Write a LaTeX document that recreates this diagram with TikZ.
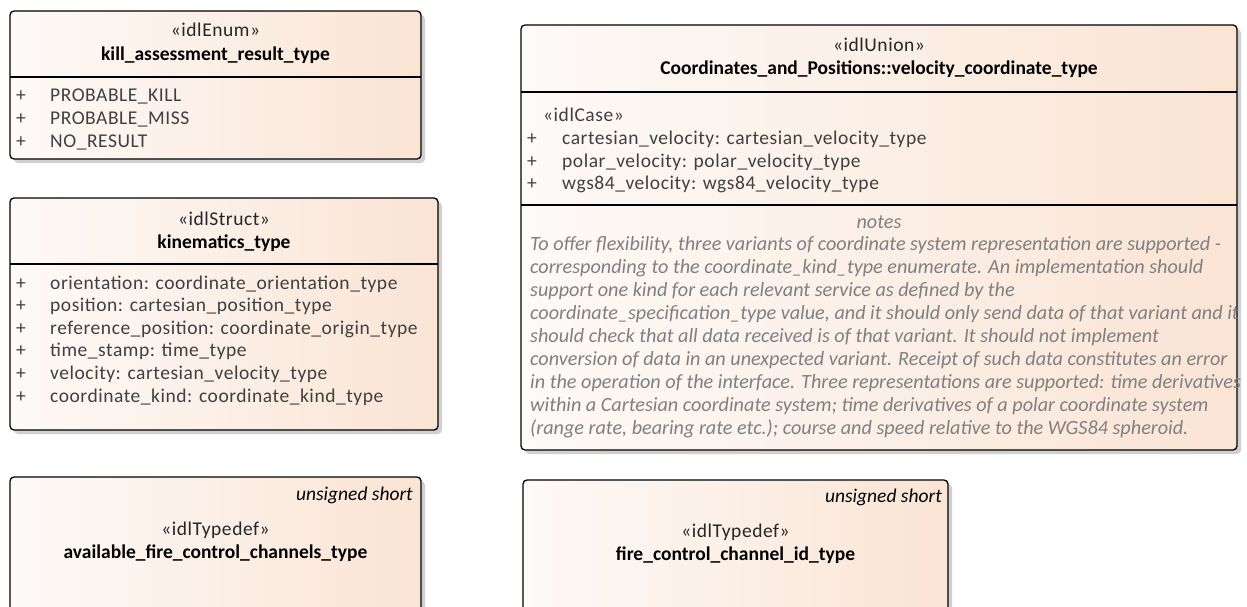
\documentclass[tikz,border=0pt]{standalone}
\usepackage{fontspec}
\setmainfont{Carlito}
\newfontfamily\spacedfont[LetterSpace=2.8]{Carlito}
\usepackage{tikz}
\usetikzlibrary{positioning}
\definecolor{boxleft}{RGB}{253,250,248}
\definecolor{boxright}{RGB}{250,228,212}
\definecolor{shadowgray}{RGB}{208,208,208}
\definecolor{attrgray}{RGB}{64,64,64}
\definecolor{notegray}{RGB}{128,128,128}

% frame of one class: x1, y1, x2, y2
\newcommand{\classframe}[4]{%
  \fill[shadowgray,rounded corners=4pt] (#1+4,#2+4) rectangle (#3+4,#4+4);
  \draw[line width=1.3pt,rounded corners=4pt,left color=boxleft,right color=boxright] (#1,#2) rectangle (#3,#4);
}

\begin{document}
\begin{tikzpicture}[x=1pt,y=-1pt,
  stereo/.style={font=\spacedfont\fontsize{19.5}{22}\selectfont, text=black!85, anchor=base, inner sep=0pt},
  cname/.style={font=\fontsize{19.5}{22}\selectfont\bfseries, anchor=base, inner sep=0pt},
  attr/.style={font=\spacedfont\fontsize{19.5}{22}\selectfont, text=attrgray, anchor=base west, inner sep=0pt},
  typetag/.style={font=\fontsize{19.5}{22}\selectfont\itshape, anchor=base east, inner sep=0pt},
  notetext/.style={font=\fontsize{20.2}{22}\selectfont\itshape, text=notegray, anchor=base west, inner sep=0pt}]

  \useasboundingbox (0,0) rectangle (1247,607);
  \clip (0,0) rectangle (1247,607);

  % kill assessment enum
  \classframe{10}{11}{421}{159}
  \draw[line width=1.3pt] (10,77) -- (421,77);
  \node[stereo] (killstereo) at (215.5,37) {«idlEnum»};
  \node[cname] (killname) at (215.5,61) {kill\_assessment\_result\_type};
  \foreach \val [count=\n from 0] in {PROBABLE\_KILL, PROBABLE\_MISS, NO\_RESULT}{
    \node[attr] (killplus\n) at (16,{102+22.5*\n}) {+};
    \node[attr] (killattr\n) at (50,{102+22.5*\n}) {\val};
  }

  % kinematics struct
  \classframe{10}{198}{438}{430}
  \draw[line width=1.3pt] (10,264) -- (438,264);
  \node[stereo] (kinstereo) at (224,225) {«idlStruct»};
  \node[cname] (kinname) at (224,248) {kinematics\_type};
  \foreach \val [count=\n from 0] in {orientation: coordinate\_orientation\_type,
      position: cartesian\_position\_type, reference\_position: coordinate\_origin\_type,
      time\_stamp: time\_type, velocity: cartesian\_velocity\_type,
      coordinate\_kind: coordinate\_kind\_type}{
    \node[attr] (kinplus\n) at (16,{289+22.6*\n}) {+};
    \node[attr] (kinattr\n) at (50,{289+22.6*\n}) {\val};
  }

  % typedefs
  \classframe{10}{477}{421}{640}
  \node[typetag] (chantag) at (413,500) {unsigned short};
  \node[stereo] (chanstereo) at (215.5,535) {«idlTypedef»};
  \node[cname] (channame) at (215.5,558) {available\_fire\_control\_channels\_type};

  \classframe{523}{480}{948}{640}
  \node[typetag] (idtag) at (942,502) {unsigned short};
  \node[stereo] (idstereo) at (735.5,537) {«idlTypedef»};
  \node[cname] (idname) at (735.5,560) {fire\_control\_channel\_id\_type};

  % velocity union with notes
  \classframe{521}{25}{1237}{450}
  \draw[line width=1.3pt] (521,92) -- (1237,92);
  \draw[line width=1.3pt] (521,205) -- (1237,205);
  \node[stereo] (velstereo) at (879,52) {«idlUnion»};
  \node[cname] (velname) at (879,75) {Coordinates\_and\_Positions::velocity\_coordinate\_type};
  \node[attr] (velcase) at (543,122) {«idlCase»};
  \foreach \val [count=\n from 0] in {cartesian\_velocity: cartesian\_velocity\_type,
      polar\_velocity: polar\_velocity\_type, wgs84\_velocity: wgs84\_velocity\_type}{
    \node[attr] (velplus\n) at (527,{145+22*\n}) {+};
    \node[attr] (velattr\n) at (562,{145+22*\n}) {\val};
  }
  \node[notetext,anchor=base] (notehead) at (879,228) {notes};
  \foreach \txt [count=\n from 0] in {
      {To offer flexibility, three variants of coordinate system representation are supported -},
      {corresponding to the coordinate\_kind\_type enumerate. An implementation should},
      {support one kind for each relevant service as defined by the},
      {coordinate\_specification\_type value, and it should only send data of that variant and it},
      {should check that all data received is of that variant. It should not implement},
      {conversion of data in an unexpected variant. Receipt of such data constitutes an error},
      {in the operation of the interface. Three representations are supported: time derivatives},
      {within a Cartesian coordinate system; time derivatives of a polar coordinate system},
      {(range rate, bearing rate etc.); course and speed relative to the WGS84 spheroid.}}{
    \node[notetext] (note\n) at (530,{250+23*\n}) {\txt};
  }

\end{tikzpicture}
\end{document}
